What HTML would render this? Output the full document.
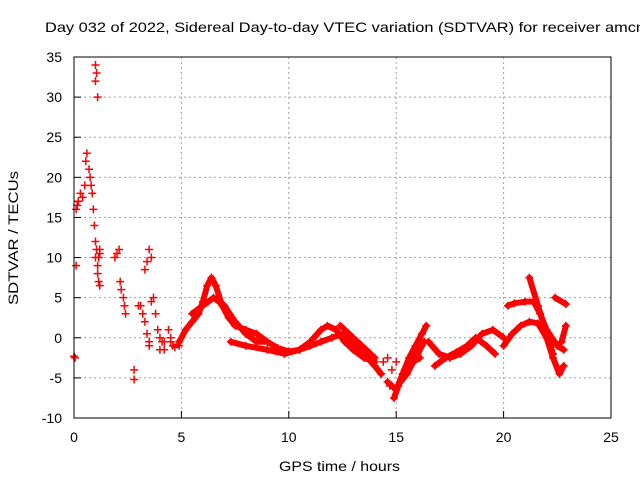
<!DOCTYPE html>
<html><head><meta charset="utf-8"><style>
body{margin:0;background:#fff}
svg{display:block;font-family:"Liberation Sans",sans-serif}
</style></head><body>
<svg id="c" width="640" height="480">
<rect width="640" height="480" fill="#fff"/>
<text x="45" y="32" font-size="14" textLength="600" lengthAdjust="spacingAndGlyphs">Day 032 of 2022, Sidereal Day-to-day VTEC variation (SDTVAR) for receiver amcn</text>
<text x="279" y="471" font-size="14" textLength="121" lengthAdjust="spacingAndGlyphs">GPS time / hours</text>
<text transform="translate(18,305) rotate(-90)" font-size="14" textLength="134" lengthAdjust="spacingAndGlyphs">SDTVAR / TECUs</text>
<g id="grid"></g><g id="marks"></g>
<rect x="74" y="57" width="537" height="361" fill="none" stroke="#000"/>
</svg>
<script>
const xTicks=[0,5,10,15,20,25];
const yTicks=[-10,-5,0,5,10,15,20,25,30,35];
// sparse scatter points: hours, values
const scatT=[0,0.05,0.1,0.1,0.2,0.3,0.4,0.5,0.55,0.6,0.7,0.75,0.8,0.85,0.9,0.95,1.0,1.0,1.05,1.1,1.15,1.1,1.2,1.15,1.2,1.2,1.0,1.0,1.05,1.1,1.9,2.0,2.1,2.15,2.2,2.3,2.35,2.4,2.8,2.8,3.0,3.1,3.2,3.3,3.4,3.5,3.5,3.6,3.7,3.8,3.9,4.0,4.0,4.1,4.2,4.2,4.4,4.5,4.5,4.6,4.7,4.8,4.9,3.3,3.4,3.5,3.6,0.2,0.15,14.4,14.6,14.8,15.0,15.3,14.3,14.7];
const scatV=[-2.3,-2.5,16,9,17,18,17.5,19,22,23,21,20,19,18,16,14,12,10,11,9,7,8,6.5,10,11,10.5,34,32,33,30,10,10.5,11,7,6,5,4,3,-4,-5.2,4,4,3,2,0.5,-0.5,-1,4.5,5,3,1,0,-1.5,-0.5,-1.5,-0.5,1,0,-0.5,-1,-1.2,-0.8,-1,8.5,9.5,11,10,17,16.5,-3,-2.5,-4,-3,-5,-4.5,-6];
// continuous tracks (hours / values)
const trackA_t=[4.9,5.2,5.5,5.8,6.0,6.2,6.4,6.6,6.9,7.2,7.5,8,8.5,9,9.5,10,10.5,11,11.5,11.8,12.2,12.6,13,13.5,14];
const trackA_v=[-0.5,1,2,3,4.5,6.5,7.5,6.5,4,2.5,1.5,1,0.5,-0.5,-1.3,-1.7,-1.5,-0.5,1,1.5,1,-0.5,-1.5,-2.5,-3];
const trackB_t=[7.3,8,9,9.8,10.5,11,11.5,12,12.5,13,13.5,14,14.3];
const trackB_v=[-0.5,-1,-1.5,-2,-1.5,-1,-0.5,0,0.5,-1,-2,-3.5,-4.5];
const trackC_t=[5.5,6,6.5,7,7.5,8,8.5,9];
const trackC_v=[3,4,5,4,2,0.5,-0.5,-0.5];
const trackD_t=[14.6,15.0,15.3,15.6,15.9,16.2,16.4];
const trackD_v=[-5.5,-6.5,-4.5,-2.5,-1,0.5,1.5];
const trackE_t=[14.9,15.1,15.4,15.7,16.0,16.3];
const trackE_v=[-7.5,-6,-4,-3,-2,-0.5];
const trackF_t=[16.5,17,17.5,18,18.5,19,19.5,20];
const trackF_v=[-0.5,-2,-2.5,-2,-1,0.5,1,0];
const trackG_t=[16.8,17.3,17.8,18.3,18.7,19.2,19.6];
const trackG_v=[-3.5,-2.5,-1.8,-1,0,-1,-2];
const trackH_t=[20.2,20.5,21,21.4,21.7,22,22.5,22.8];
const trackH_v=[4,4.3,4.5,4.5,3,1,-1,-1.5];
const trackI_t=[20,20.4,20.8,21.2,21.6,22,22.3,22.6,22.8];
const trackI_v=[-1,0.5,1.5,2,1.8,0,-2.5,-4.5,-3.5];
const trackJ_t=[21.2,21.6,22,22.3];
const trackJ_v=[7.5,4,0.5,-2];
const trackK_t=[22.4,22.9];
const trackK_v=[5,4.2];
const trackL_t=[22.7,22.9];
const trackL_v=[-0.5,1.5];
const trackM_t=[12.4,12.8,13.2,13.6,14.0];
const trackM_v=[1.5,0.5,-0.5,-1.5,-2.5];
const trackN_t=[15.2,15.5,15.8,16.1];
const trackN_v=[-5.5,-4.5,-3,-2.5];
const tracks=[[trackA_t,trackA_v],[trackB_t,trackB_v],[trackC_t,trackC_v],[trackD_t,trackD_v],[trackE_t,trackE_v],[trackF_t,trackF_v],[trackG_t,trackG_v],[trackH_t,trackH_v],[trackI_t,trackI_v],[trackJ_t,trackJ_v],[trackK_t,trackK_v],[trackL_t,trackL_v],[trackM_t,trackM_v],[trackN_t,trackN_v]];
const X=t=>74+t*537/25, Y=v=>418-(v+10)*361/45;
const NS='http://www.w3.org/2000/svg';
const g=document.getElementById('grid'), m=document.getElementById('marks'), svg=document.getElementById('c');
function mk(tag,a,p){const e=document.createElementNS(NS,tag);for(const k in a)e.setAttribute(k,a[k]);p.appendChild(e);return e;}
xTicks.forEach(t=>{
 if(t>0&&t<25){const l=mk('line',{x1:X(t),x2:X(t),y1:57,y2:418,stroke:'#a0a0a0','stroke-dasharray':'2,3'},g);
 
 }
 mk('line',{x1:X(t),x2:X(t),y1:418,y2:411,stroke:'#000'},g);
 const tx=mk('text',{x:X(t),y:442,'font-size':14,'text-anchor':'middle'},svg);tx.textContent=t;
 
 
});
yTicks.forEach(v=>{
 if(v>-10&&v<35){const l=mk('line',{x1:74,x2:611,y1:Y(v),y2:Y(v),stroke:'#a0a0a0','stroke-dasharray':'2,3'},g);
 
 }
 mk('line',{x1:74,x2:81,y1:Y(v),y2:Y(v),stroke:'#000'},g);
 const tx=mk('text',{x:62,y:Y(v)+5,'font-size':14,'text-anchor':'end'},svg);tx.textContent=v;
 
 
});
function plus(x,y){const p=mk('path',{d:`M${x-4},${y}h8M${x},${y-4}v8`,stroke:'#f00','stroke-width':1.5},m);
 
 }
tracks.forEach(([ts,vs])=>{
 const pl=mk('polyline',{points:ts.map((t,i)=>X(t)+','+Y(vs[i])).join(' '),fill:'none',stroke:'#f00','stroke-width':6,'stroke-linejoin':'round','stroke-linecap':'round'},m);
 
 
 ts.forEach((t,i)=>plus(X(t),Y(vs[i])));
});
scatT.forEach((t,i)=>plus(X(t),Y(scatV[i])));
</script>
</body></html>
